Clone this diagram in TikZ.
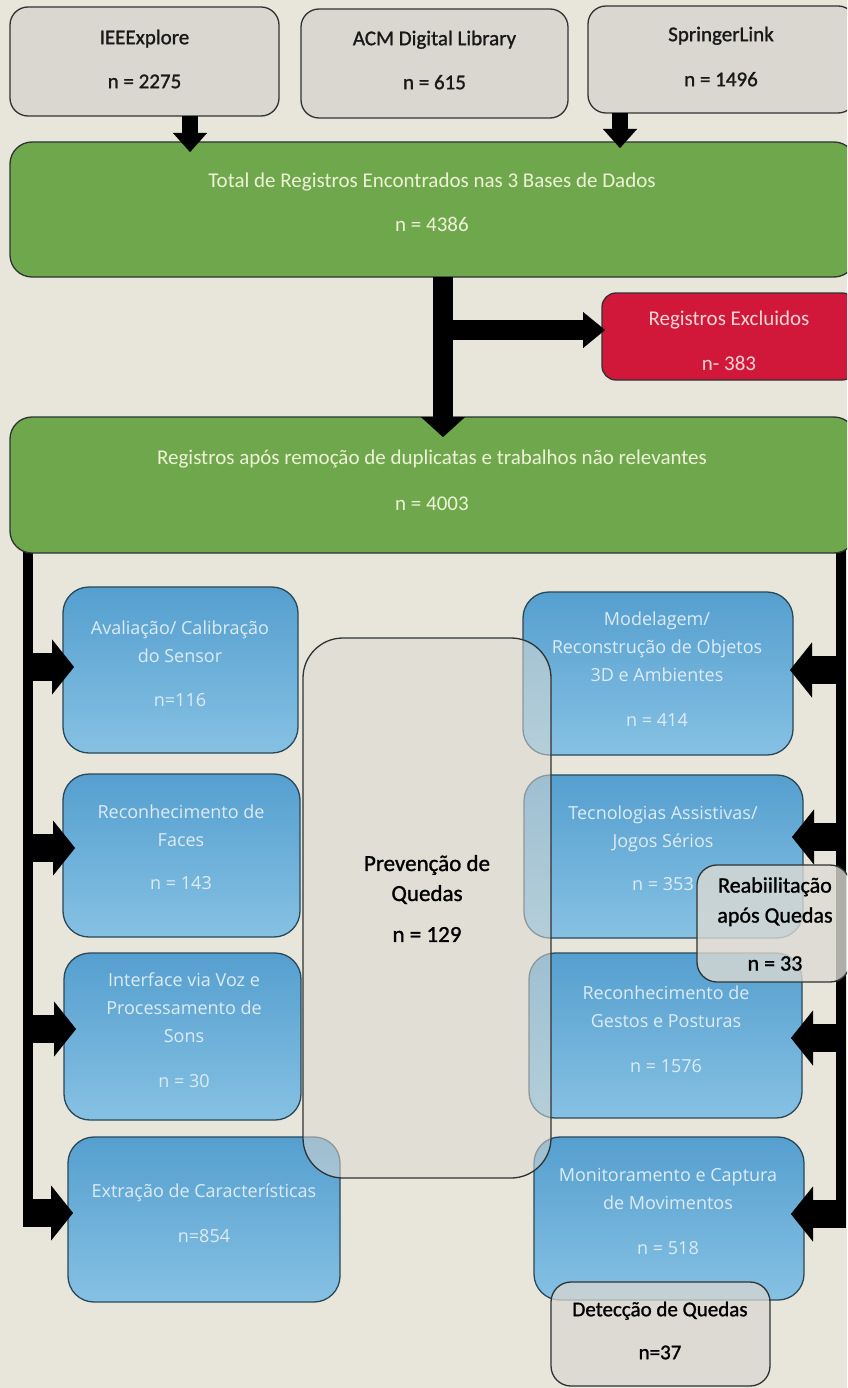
\documentclass[tikz,border=0pt]{standalone}
\usepackage{fontspec}
\setmainfont{Carlito}
\newfontfamily\bluefont{Open Sans}
\newfontfamily\medfont[FakeBold=1.2]{Carlito}
\usetikzlibrary{arrows.meta,calc}
\definecolor{bg}{HTML}{E8E5DB}
\definecolor{edge}{HTML}{2E3333}
\definecolor{blueedge}{HTML}{2A4858}
\definecolor{grayfill}{HTML}{D9D7D0}
\definecolor{greenfill}{HTML}{6FA84C}
\definecolor{redfill}{HTML}{D1183B}
\definecolor{bluetop}{HTML}{559FCF}
\definecolor{bluebot}{HTML}{86C1E3}
\definecolor{bluetext}{HTML}{DDEBF4}
\definecolor{greentext}{HTML}{EEF2D6}
\definecolor{redtext}{HTML}{F6D5D5}
\definecolor{pvfill}{HTML}{DCDAD3}
\begin{document}
\begin{tikzpicture}[x=1pt,y=-1pt,
  box/.style={draw=edge, line width=1.3pt, inner sep=0pt, outer sep=0pt},
  graybox/.style={box, fill=grayfill, rounded corners=18pt},
  greenbox/.style={box, fill=greenfill, rounded corners=22pt},
  redbox/.style={box, fill=redfill, rounded corners=14pt},
  bluebox/.style={box, draw=blueedge, top color=bluetop, bottom color=bluebot, rounded corners=26pt},
  pvbox/.style={box, fill=pvfill, fill opacity=0.55, rounded corners=40pt},
  reabbox/.style={box, fill=pvfill, fill opacity=0.8, rounded corners=20pt},
  dqbox/.style={box, fill=grayfill, fill opacity=0.75, rounded corners=20pt},
  ttxt/.style={align=center, inner sep=0pt, text=black!90, font=\medfont\fontsize{21}{26}\selectfont},
  gtxt/.style={align=center, inner sep=0pt, text=greentext, font=\fontsize{21}{26}\selectfont},
  rtxt/.style={align=center, inner sep=0pt, text=redtext, font=\fontsize{21}{26}\selectfont},
  btxt/.style={align=center, inner sep=0pt, text=bluetext, font=\bluefont\fontsize{18}{28}\selectfont},
  pvtxt/.style={align=center, inner sep=0pt, text=black, font=\medfont\fontsize{23}{30}\selectfont},
  rbtxt/.style={align=center, inner sep=0pt, text=black, font=\medfont\fontsize{22}{30}\selectfont},
  toparr/.style={draw=black, line width=16pt, -{Triangle[width=34pt,length=19pt,line width=0.1pt]}},
  midarr/.style={draw=black, line width=20pt, -{Triangle[width=44pt,length=20pt,line width=0.1pt]}},
  redarr/.style={draw=black, line width=20pt, -{Triangle[width=36pt,length=22pt,line width=0.1pt]}},
  sidearr/.style={draw=black, line width=28pt, -{Triangle[width=55pt,length=22pt,line width=0.1pt]}},
  trunk/.style={draw=black, line width=10pt}
]
\useasboundingbox (0,0) rectangle (847,1388);
\clip (0,0) rectangle (847,1388);
\fill[bg] (0,0) rectangle (847,1388);

% helper coordinates
\coordinate (ax1) at (190,0);
\coordinate (ax2) at (620,0);
\coordinate (mx) at (443,0);
\coordinate (ry) at (0,330);
\coordinate (lt) at (28,543);
\coordinate (rt) at (841,543);
\coordinate (lb) at (28,1227);
\coordinate (rbot) at (841,1228);

% top sources
\node[graybox, minimum width=269pt, minimum height=109pt] (ieee) at (144.5,61.5) {};
\node[ttxt] (ieee-t) at (144.5,59) {IEEExplore\\[18pt]n = 2275};
\node[graybox, minimum width=267pt, minimum height=109pt] (acm) at (434.5,63.5) {};
\node[ttxt] (acm-t) at (434.5,60) {ACM Digital Library\\[18pt]n = 615};
\node[graybox, minimum width=268pt, minimum height=107pt] (spr) at (722,59.5) {};
\node[ttxt] (spr-t) at (721,56.5) {SpringerLink\\[19pt]n = 1496};

% total
\node[greenbox, minimum width=846pt, minimum height=135pt] (g1) at (433,209.5) {};
\node[gtxt] (g1-t) at (432,202) {Total de Registros Encontrados nas 3 Bases de Dados\\[18pt]n = 4386};

\draw[toparr] (ieee.south -| ax1) -- ($(g1.north -| ax1)+(0,10)$);
\draw[toparr] (spr.south -| ax2) -- ($(g1.north -| ax2)+(0,6)$);

% excluded
\node[redbox, minimum width=254pt, minimum height=87pt] (red) at (729,336.5) {};
\node[rtxt] (red-t) at (729,340.5) {Registros Excluidos\\[19pt]n- 383};

% side trunks (under the second green box)
\draw[trunk] (lt) -- (lb);
\draw[trunk] (rt) -- (rbot);

% after removal
\node[greenbox, minimum width=846pt, minimum height=136pt] (g2) at (433,485) {};
\node[gtxt] (g2-t) at (432,480) {Registros após remoção de duplicatas e trabalhos não relevantes\\[20pt]n = 4003};

\draw[midarr] (g1.south -| mx) -- ($(g2.north -| mx)+(0,20)$);
\draw[redarr] (mx |- ry) -- ($(red.west |- ry)+(3,0)$);

% left categories
\node[bluebox, minimum width=235pt, minimum height=166pt] (av) at (180.5,670) {};
\node[btxt] (av-t) at (180,664) {Avaliação/ Calibração\\do Sensor\\[16pt]n=116};
\node[bluebox, minimum width=237pt, minimum height=163pt] (fa) at (181.5,855.5) {};
\node[btxt] (fa-t) at (181,847.5) {Reconhecimento de\\Faces\\[15pt]n = 143};
\node[bluebox, minimum width=237pt, minimum height=167pt] (iv) at (182.5,1036.5) {};
\node[btxt] (iv-t) at (184,1030.5) {Interface via Voz e\\Processamento de\\Sons\\[17pt]n = 30};
\node[bluebox, minimum width=272pt, minimum height=165pt] (ex) at (204,1219.5) {};
\node[btxt] (ex-t) at (204,1213.5) {Extração de Características\\[17pt]n=854};

% right categories
\node[bluebox, minimum width=270pt, minimum height=163pt] (mo) at (658,673.5) {};
\node[btxt] (mo-t) at (657,669) {Modelagem/\\Reconstrução de Objetos\\3D e Ambientes\\[17pt]n = 414};
\node[bluebox, minimum width=279pt, minimum height=163pt] (te) at (663.5,856.5) {};
\node[btxt] (te-t) at (663,848) {Tecnologias Assistivas/\\Jogos Sérios\\[15pt]n = 353};
\node[bluebox, minimum width=273pt, minimum height=165pt] (ge) at (665.5,1035.5) {};
\node[btxt] (ge-t) at (666,1029.5) {Reconhecimento de\\Gestos e Posturas\\[17pt]n = 1576};
\node[bluebox, minimum width=270pt, minimum height=163pt] (mn) at (669,1218.5) {};
\node[btxt] (mn-t) at (668,1211) {Monitoramento e Captura\\de Movimentos\\[17pt]n = 518};

% side arrows
\draw[sidearr] ($(lt |- av.west)+(-5,-3)$) -- ($(av.west)+(11,-3)$);
\draw[sidearr] ($(lt |- fa.west)+(-5,-7.5)$) -- ($(fa.west)+(12,-7.5)$);
\draw[sidearr] ($(lt |- iv.west)+(-5,-7.5)$) -- ($(iv.west)+(12,-7.5)$);
\draw[sidearr] ($(lt |- ex.west)+(-5,-6.5)$) -- ($(ex.west)+(5,-6.5)$);
\draw[sidearr] ($(rt |- mo.east)+(5,-3.5)$) -- ($(mo.east)+(-3,-3.5)$);
\draw[sidearr] ($(rt |- te.east)+(5,-19.5)$) -- ($(te.east)+(-11,-19.5)$);
\draw[sidearr] ($(rt |- ge.east)+(5,2.5)$) -- ($(ge.east)+(-11,2.5)$);
\draw[sidearr] ($(rt |- mn.east)+(5,-4.5)$) -- ($(mn.east)+(-13,-4.5)$);

% overlay boxes
\node[pvbox, minimum width=248pt, minimum height=540pt] (pv) at (427,908) {};
\node[pvtxt] (pv-t) at (427,898.5) {Prevenção de\\Quedas\\[11pt]n = 129};

\node[reabbox, minimum width=153pt, minimum height=117pt] (rb) at (773.5,923.5) {};
\node[rbtxt] (rb-t) at (775,924) {Reabiilitação\\após Quedas\\[18pt]n = 33};

\node[dqbox, minimum width=219pt, minimum height=104pt] (dq) at (660.5,1334) {};
\node[rbtxt, font=\medfont\fontsize{21}{25}\selectfont] (dq-t) at (660,1330.5) {Detecção de Quedas\\[18pt]n=37};
\end{tikzpicture}
\end{document}
